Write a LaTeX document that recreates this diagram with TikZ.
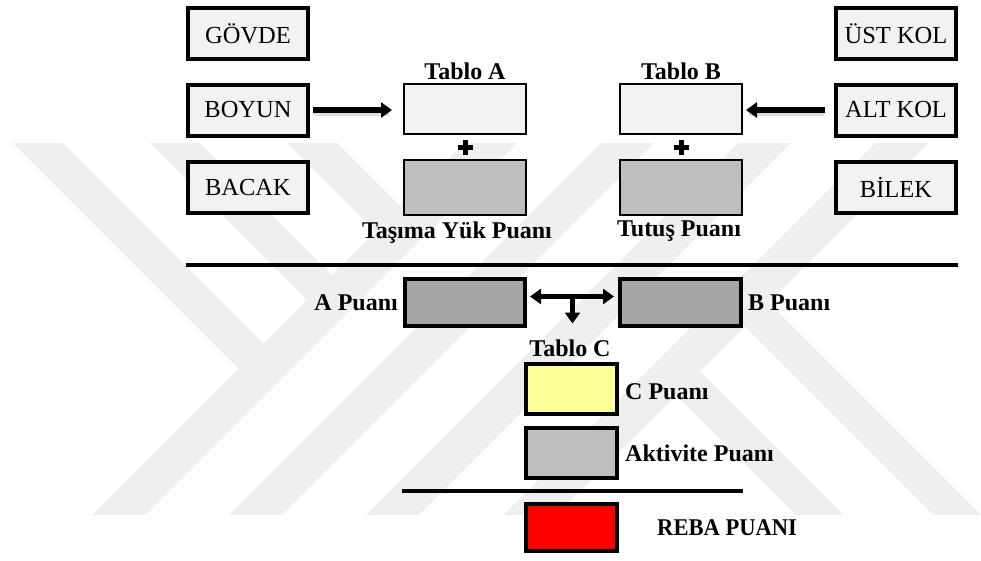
\documentclass[tikz,border=0pt]{standalone}
\usepackage{fontspec}
\setmainfont{Liberation Serif}
\usetikzlibrary{arrows.meta,calc}
\definecolor{boxlight}{HTML}{F2F2F2}
\definecolor{boxgray}{HTML}{BFBFBF}
\definecolor{boxdark}{HTML}{A6A6A6}
\definecolor{boxyellow}{HTML}{FFFF99}
\definecolor{wm}{HTML}{EFEFEF}
\definecolor{shadowgray}{HTML}{DDDDDD}
\begin{document}
\begin{tikzpicture}[x=1pt,y=-1pt,
  bodybox/.style={draw, line width=4pt, fill=boxlight, minimum width=120pt, minimum height=51pt, inner sep=0pt, font=\fontsize{24.5}{28}\selectfont},
  tabbox/.style={draw, line width=2pt, minimum width=122pt, inner sep=0pt},
  scorebox/.style={draw, line width=4pt, inner sep=0pt},
  lbl/.style={font=\fontsize{24}{28}\selectfont\bfseries, inner sep=0pt},
  fat/.style={line width=5.5pt},
  fatshadow/.style={line width=7pt, draw=shadowgray},
  tip/.tip={Triangle[length=11pt,width=15pt]},
  sepline/.style={line width=4pt}
]
\useasboundingbox (0,0) rectangle (981,560);
% watermark
\begin{scope}[fill=wm]
\fill (13,143) -- (63,143) -- (263.5,343.5) -- (238.5,368.5) -- cycle;
\fill (150,143) -- (200,143) -- (332,275) -- (307,300) -- cycle;
\fill (287,143) -- (337,143) -- (400.5,206.5) -- (375.5,231.5) -- cycle;
\fill (92,515) -- (145,515) -- (517,143) -- (464,143) -- cycle;
\fill (229,515) -- (282,515) -- (654,143) -- (601,143) -- cycle;
\fill (366,515) -- (419,515) -- (791,143) -- (738,143) -- cycle;
\fill (503,515) -- (556,515) -- (928,143) -- (875,143) -- cycle;
\fill (676,395) -- (700,371) -- (844,515) -- (796,515) -- cycle;
\fill (744.5,326.5) -- (768.5,302.5) -- (981,515) -- (933,515) -- cycle;
\end{scope}

% body part boxes
\node[bodybox] (govde) at (248,33.5) {GÖVDE};
\node[bodybox] (boyun) at (248,110) {BOYUN};
\node[bodybox] (bacak) at (248,187.5) {BACAK};
\node[bodybox] (ustkol) at (896,33.5) {ÜST KOL};
\node[bodybox] (altkol) at (896,110) {ALT KOL};
\node[bodybox] (bilek) at (896,187.5) {BİLEK};

% tables
\node[tabbox, fill=boxlight, minimum height=50pt] (tabA) at (465,109) {};
\node[tabbox, fill=boxgray, minimum height=55pt] (yukA) at (465,187.5) {};
\node[tabbox, fill=boxlight, minimum height=50pt] (tabB) at (681,109) {};
\node[tabbox, fill=boxgray, minimum height=55pt] (tutB) at (681,187.5) {};
\node[lbl, anchor=base] (tAlbl) at (465,79) {Tablo A};
\node[lbl, anchor=base] (tBlbl) at (681,79) {Tablo B};
\node[lbl, anchor=base] (yuklbl) at (457,238) {Taşıma Yük Puanı};
\node[lbl, anchor=base] (tutlbl) at (679,236) {Tutuş Puanı};

% plus signs
\coordinate (plusA) at ($(tabA.south)!0.5!(yukA.north)$);
\coordinate (plusB) at ($(tabB.south)!0.5!(tutB.north)$);
\foreach \p in {plusA,plusB}{
  \fill ($(\p)+(-7.5,-2.5)$) rectangle ($(\p)+(7.5,2.5)$);
  \fill ($(\p)+(-2.5,-7.5)$) rectangle ($(\p)+(2.5,7.5)$);
}

% arrows into tables (with soft shadow)
\draw[fatshadow, shorten <=4pt, shorten >=14pt] ($(boyun.east)+(0,2)$) -- ($(boyun.east -| tabA.west)+(0,2)$);
\draw[fatshadow, shorten <=10pt, shorten >=6pt] ($(altkol.west)+(0,2)$) -- ($(altkol.west -| tabB.east)+(0,2)$);
\draw[fat, -tip, shorten <=3pt, shorten >=11pt] (boyun.east) -- (boyun.east -| tabA.west);
\draw[fat, -tip, shorten <=9pt, shorten >=3pt] (altkol.west) -- (altkol.west -| tabB.east);

% separator
\draw[sepline] (186,265) -- (958,265);

% A / B scores
\node[scorebox, fill=boxdark, minimum width=120pt, minimum height=47pt] (aP) at (465,302.5) {};
\node[scorebox, fill=boxdark, minimum width=121pt, minimum height=47pt] (bP) at (680.5,302.5) {};
\node[lbl, anchor=base east] (aPlbl) at (398,310) {A Puanı};
\node[lbl, anchor=base west] (bPlbl) at (748,310) {B Puanı};
\coordinate (mid) at ($(aP.east)!0.5!(bP.west)+(0,-6)$);
\draw[fat, tip-tip, shorten <=3pt, shorten >=4pt] (aP.east |- mid) -- (bP.west |- mid);
\coordinate (down) at ($(mid)+(0,27)$);
\draw[fat, -tip] (mid) -- (down);

% C section
\node[lbl, anchor=base] (tClbl) at (570,356) {Tablo C};
\node[scorebox, fill=boxyellow, minimum width=91pt, minimum height=50pt] (cP) at (571.5,389) {};
\node[scorebox, fill=boxgray, minimum width=91pt, minimum height=50pt] (act) at (571.5,453) {};
\node[lbl, anchor=base west] (cPlbl) at (625,399) {C Puanı};
\node[lbl, anchor=base west] (actlbl) at (625,461) {Aktivite Puanı};
\draw[line width=3.5pt] (402,491) -- (743,491);
\node[scorebox, fill=red, minimum width=91pt, minimum height=47pt] (reba) at (571.5,527.5) {};
\node[lbl, anchor=base west] (rebalbl) at (657,535) {\scalebox{0.94}[1]{REBA PUANI}};
\end{tikzpicture}
\end{document}
